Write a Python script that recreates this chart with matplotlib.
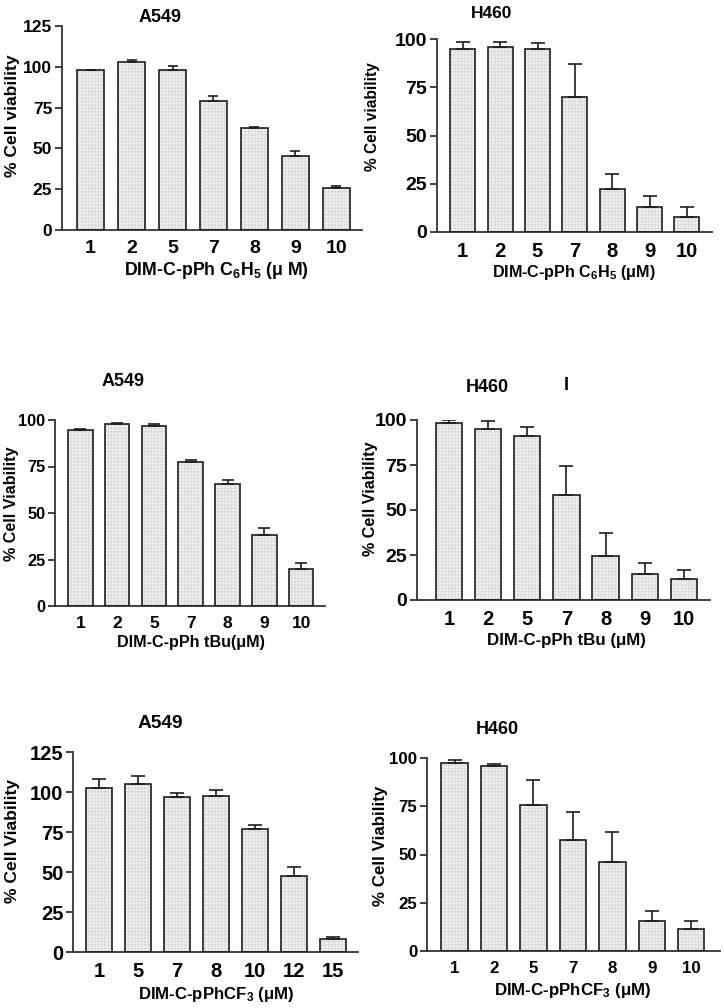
import matplotlib
matplotlib.use("Agg")
import matplotlib.pyplot as plt

plt.rcParams['font.family'] = ['Liberation Sans', 'DejaVu Sans']
plt.rcParams['font.weight'] = 'bold'
plt.rcParams['mathtext.fontset'] = 'custom'
plt.rcParams['mathtext.rm'] = 'Liberation Sans:bold'
plt.rcParams['mathtext.it'] = 'Liberation Sans:bold'
plt.rcParams['mathtext.bf'] = 'Liberation Sans:bold'
plt.rcParams['hatch.linewidth'] = 0.5

# ---------------- data ----------------
cats_p1 = ["1", "2", "5", "7", "8", "9", "10"]
vals_p1 = [98.3, 103.0, 98.3, 79.3, 62.8, 45.5, 25.9]
err_p1 = [0.0, 1.0, 2.2, 3.1, 0.4, 3.2, 1.2]

cats_p2 = ["1", "2", "5", "7", "8", "9", "10"]
vals_p2 = [94.6, 95.8, 94.6, 69.7, 22.5, 13.0, 7.8]
err_p2 = [4.0, 2.8, 3.2, 17.3, 7.6, 5.9, 5.0]

cats_p3 = ["1", "2", "5", "7", "8", "9", "10"]
vals_p3 = [94.6, 98.0, 96.6, 77.4, 65.4, 38.0, 19.7]
err_p3 = [0.6, 0.4, 1.1, 1.3, 2.3, 3.8, 3.2]

cats_p4 = ["1", "2", "5", "7", "8", "9", "10"]
vals_p4 = [98.5, 95.0, 91.1, 58.1, 24.6, 14.3, 11.5]
err_p4 = [1.3, 4.3, 4.8, 16.2, 12.4, 6.1, 5.0]

cats_p5 = ["1", "5", "7", "8", "10", "12", "15"]
vals_p5 = [102.8, 105.1, 97.0, 97.2, 76.6, 47.5, 7.9]
err_p5 = [5.6, 4.7, 2.3, 4.3, 2.9, 5.4, 1.7]

cats_p6 = ["1", "2", "5", "7", "8", "9", "10"]
vals_p6 = [97.2, 95.8, 75.7, 57.4, 45.9, 15.6, 11.3]
err_p6 = [1.7, 1.2, 12.9, 14.4, 16.0, 5.0, 4.1]

titles = ["A549", "H460", "A549", "H460", "A549", "H460"]
ylabels = ["% Cell viability", "% Cell viability", "% Cell Viability",
           "% Cell Viability", "% Cell Viability", "% Cell Viability"]
xlabels = [r"DIM-C-pPh C$_{6}$H$_{5}$ (μ M)",
           r"DIM-C-pPh C$_{6}$H$_{5}$ (μM)",
           "DIM-C-pPh tBu(μM)",
           "DIM-C-pPh tBu (μM)",
           r"DIM-C-pPhCF$_{3}$ (μM)",
           r"DIM-C-pPhCF$_{3}$ (μM)"]
yticks_list = [[0, 25, 50, 75, 100, 125], [0, 25, 50, 75, 100],
               [0, 25, 50, 75, 100], [0, 25, 50, 75, 100],
               [0, 25, 50, 75, 100, 125], [0, 25, 50, 75, 100]]

W, H = 724, 1008
fig = plt.figure(figsize=(W / 100, H / 100), dpi=100)

# layout (pixels): left, right, top(ymax), bottom(y=0), xlim left pad, right pad
panels = [
    dict(cats=cats_p1, vals=vals_p1, err=err_p1, box=(62, 362, 26, 230), pad=(0.70, 0.63),
         ytf=12.5, xtf=14, cap=3.5,
         title=(160, 18, 13), ylab=(13, 116, 12.6), xlab=(216, 271, 12.8)),
    dict(cats=cats_p2, vals=vals_p2, err=err_p2, box=(437, 712, 39, 232), pad=(0.69, 0.67),
         ytf=14, xtf=14.5, cap=4.7,
         title=(492, 13, 12.5), ylab=(372, 117, 11.2), xlab=(574, 273, 11.6)),
    dict(cats=cats_p3, vals=vals_p3, err=err_p3, box=(55, 325, 420, 606), pad=(0.69, 0.65),
         ytf=11.8, xtf=12.5, cap=4.0,
         title=(123, 382, 13), ylab=(12, 504, 11.6), xlab=(191, 643, 11.6)),
    dict(cats=cats_p4, vals=vals_p4, err=err_p4, box=(417, 710, 420, 600), pad=(0.82, 0.67),
         ytf=14, xtf=14.5, cap=4.7,
         title=(487, 387, 13), ylab=(370, 499, 11.6), xlab=(566, 640, 12.2)),
    dict(cats=cats_p5, vals=vals_p5, err=err_p5, box=(73, 358, 752, 952), pad=(0.67, 0.63),
         ytf=14.5, xtf=14.5, cap=4.7,
         title=(160, 723, 13.8), ylab=(13, 841, 12.6), xlab=(216, 995, 12.1)),
    dict(cats=cats_p6, vals=vals_p6, err=err_p6, box=(427, 720, 758, 951), pad=(0.70, 0.73),
         ytf=12.2, xtf=12.2, cap=4.7,
         title=(497, 730, 13), ylab=(380, 846, 12.2), xlab=(573, 990, 12.2)),
]

edge = "#1e1e1e"
for i, p in enumerate(panels):
    l, r, t, b = p["box"]
    ax = fig.add_axes([l / W, 1 - b / H, (r - l) / W, (b - t) / H])
    n = len(p["cats"])
    x = list(range(n))
    ymax = yticks_list[i][-1]
    ax.bar(x, p["vals"], width=0.67, color="#efefef", edgecolor="#d6d6d6",
           hatch="+++++", linewidth=0, zorder=2)
    ax.bar(x, p["vals"], width=0.67, fill=False, edgecolor=edge,
           linewidth=1.2, zorder=3)
    lower = [0] * n
    ax.errorbar(x, p["vals"], yerr=[lower, p["err"]], fmt="none",
                ecolor=edge, elinewidth=1.2, capsize=p["cap"], capthick=1.2, zorder=4)
    ax.set_xlim(-p["pad"][0], n - 1 + p["pad"][1])
    ax.set_ylim(0, ymax)
    ax.set_yticks(yticks_list[i])
    ax.set_xticks(x)
    ax.set_xticklabels(p["cats"])
    for s in ["top", "right"]:
        ax.spines[s].set_visible(False)
    for s in ["left", "bottom"]:
        ax.spines[s].set_linewidth(1.3)
        ax.spines[s].set_color("#333333")
    ax.tick_params(axis="y", direction="out", length=5, width=1.3, color="#333333",
                   labelsize=p["ytf"], pad=2)
    ax.tick_params(axis="x", length=0, labelsize=p["xtf"], pad=7)
    for lab in ax.get_xticklabels() + ax.get_yticklabels():
        lab.set_fontweight("bold")
    ax.patch.set_alpha(0)

    tx, ty, tf = p["title"]
    fig.text(tx / W, 1 - ty / H, titles[i], ha="center", va="center",
             fontsize=tf, fontweight="bold")
    yx, yy, yf = p["ylab"]
    fig.text(yx / W, 1 - yy / H, ylabels[i], ha="center", va="center",
             rotation=90, fontsize=yf, fontweight="bold")
    xx, xy, xf = p["xlab"]
    fig.text(xx / W, 1 - xy / H, xlabels[i], ha="center", va="center",
             fontsize=xf, fontweight="bold")

fig.text(566 / W, 1 - 386 / H, "I", ha="center", va="center",
         fontsize=13, fontweight="bold")

fig.savefig("out.png", dpi=100)
